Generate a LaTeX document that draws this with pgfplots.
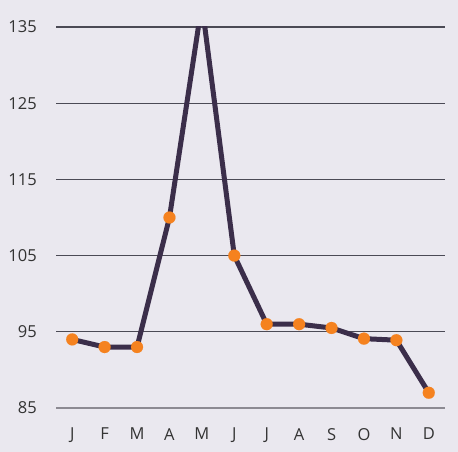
\documentclass[border=0pt]{standalone}
\usepackage{pgfplots}
\pgfplotsset{compat=1.18}
\usepackage{fontspec}
\setmainfont{Open Sans}
\definecolor{bgc}{HTML}{EAE8EF}
\definecolor{linec}{HTML}{3B2E4A}
\definecolor{markc}{HTML}{F5821F}
\definecolor{gridc}{HTML}{4B4A55}
\definecolor{basec}{HTML}{8C8A92}
\definecolor{txt}{HTML}{333333}
\begin{document}
\begin{tikzpicture}[x=1pt,y=1pt]
\fill[bgc] (0,0) rectangle (458,452);
\begin{axis}[
  at={(56pt,44pt)}, anchor=south west, scale only axis,
  width=389pt, height=381pt,
  xmin=-0.5, xmax=11.5, ymin=85, ymax=135,
  ytick={95,105,...,135},
  extra y ticks={85},
  extra y tick style={ymajorgrids=true, major grid style={basec, line width=2pt}},
  xtick={0,...,11},
  xticklabels={J,F,M,A,M,J,J,A,S,O,N,D},
  axis line style={draw=none},
  major tick length=0pt,
  tick style={draw=none},
  ymajorgrids=true,
  major grid style={gridc, line width=1.3pt},
  tick label style={font=\fontsize{16.5}{18}\selectfont, text=txt},
  /pgf/number format/assume math mode=true,
  yticklabel style={anchor=east, inner sep=0pt, xshift=-19pt},
  xticklabel style={anchor=north, inner sep=0pt, yshift=-20pt},
  clip marker paths=true,
]
\addplot[linec, line width=5pt, line join=round, mark=*, mark size=6pt,
  mark options={solid, fill=markc, draw=markc, line width=0.1pt}]
  coordinates {(0,94) (1,93) (2,93) (3,110) (4,138) (5,105) (6,96) (7,96) (8,95.5) (9,94.1) (10,93.9) (11,87)};
\end{axis}
\end{tikzpicture}
\end{document}
